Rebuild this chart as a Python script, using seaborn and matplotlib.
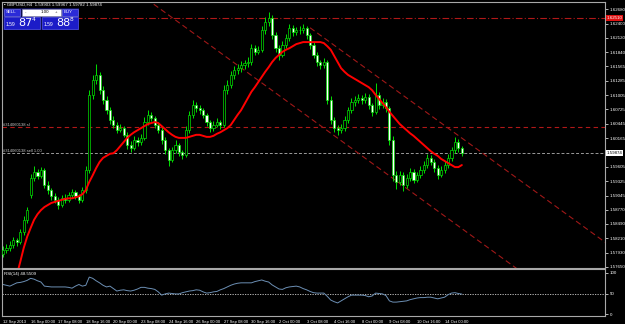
import numpy as np
import pandas as pd
import matplotlib
matplotlib.use("Agg")
import matplotlib.pyplot as plt
from matplotlib import font_manager
import seaborn as sns
from matplotlib.patches import Rectangle

# ---------------- data ----------------
opens = [1.5790,1.5798,1.5802,1.5808,1.5818,1.5814,1.5833,1.5857,
         1.5905,1.5939,1.5950,1.5942,1.5954,1.5925,1.5915,1.5903,
         1.5896,1.5886,1.5899,1.5896,1.5905,1.5911,1.5903,1.5896,
         1.5915,1.5954,1.6101,1.6130,1.6140,1.6110,1.6091,1.6071,
         1.6052,1.6042,1.6032,1.6036,1.6023,1.6003,1.5997,1.6013,
         1.6009,1.6017,1.6048,1.6062,1.6056,1.6042,1.6032,1.6013,
         1.5993,1.5974,1.5993,1.6003,1.5989,1.5984,1.6032,1.6062,
         1.6081,1.6075,1.6071,1.6062,1.6048,1.6036,1.6042,1.6048,
         1.6042,1.6110,1.6120,1.6140,1.6150,1.6153,1.6159,1.6163,
         1.6165,1.6192,1.6185,1.6189,1.6228,1.6243,1.6251,1.6218,
         1.6192,1.6179,1.6198,1.6212,1.6231,1.6224,1.6228,1.6228,
         1.6231,1.6218,1.6198,1.6179,1.6165,1.6159,1.6165,1.6091,
         1.6052,1.6036,1.6032,1.6036,1.6052,1.6071,1.6087,1.6091,
         1.6095,1.6091,1.6097,1.6081,1.6068,1.6101,1.6081,1.6087,
         1.6075,1.6013,1.5944,1.5931,1.5944,1.5925,1.5939,1.5950,
         1.5935,1.5944,1.5954,1.5964,1.5978,1.5970,1.5958,1.5944,
         1.5954,1.5964,1.5978,1.5993,1.6009,1.5997]
highs = [1.5806,1.5810,1.5815,1.5824,1.5822,1.5840,1.5864,1.5882,
         1.5946,1.5962,1.5956,1.5960,1.5958,1.5932,1.5920,1.5910,
         1.5902,1.5906,1.5908,1.5912,1.5918,1.5915,1.5908,1.5922,
         1.5962,1.6110,1.6140,1.6162,1.6146,1.6118,1.6098,1.6078,
         1.6060,1.6048,1.6044,1.6040,1.6028,1.6010,1.6020,1.6018,
         1.6024,1.6058,1.6072,1.6068,1.6060,1.6048,1.6038,1.6018,
         1.5998,1.6000,1.6012,1.6008,1.5994,1.6040,1.6070,1.6090,
         1.6088,1.6082,1.6076,1.6066,1.6052,1.6050,1.6056,1.6052,
         1.6120,1.6130,1.6148,1.6158,1.6162,1.6168,1.6170,1.6174,
         1.6200,1.6198,1.6196,1.6236,1.6252,1.6262,1.6256,1.6224,
         1.6198,1.6206,1.6220,1.6240,1.6238,1.6234,1.6236,1.6240,
         1.6236,1.6222,1.6204,1.6184,1.6170,1.6172,1.6170,1.6098,
         1.6058,1.6042,1.6044,1.6060,1.6078,1.6094,1.6098,1.6102,
         1.6100,1.6104,1.6102,1.6086,1.6124,1.6106,1.6094,1.6092,
         1.6080,1.6020,1.5952,1.5952,1.5950,1.5946,1.5958,1.5956,
         1.5950,1.5962,1.5972,1.5986,1.5984,1.5976,1.5964,1.5962,
         1.5972,1.5986,1.6000,1.6018,1.6014,1.6002]
lows = [1.5784,1.5792,1.5796,1.5803,1.5806,1.5810,1.5828,1.5850,
        1.5900,1.5932,1.5936,1.5938,1.5920,1.5908,1.5896,1.5890,
        1.5878,1.5882,1.5890,1.5891,1.5900,1.5898,1.5890,1.5892,
        1.5910,1.5948,1.6092,1.6122,1.6102,1.6084,1.6064,1.6045,
        1.6036,1.6026,1.6028,1.6018,1.5996,1.5990,1.5993,1.6002,
        1.6004,1.6012,1.6042,1.6050,1.6036,1.6026,1.6006,1.5986,
        1.5962,1.5970,1.5988,1.5982,1.5976,1.5980,1.6026,1.6056,
        1.6068,1.6064,1.6056,1.6040,1.6028,1.6030,1.6038,1.6034,
        1.6038,1.6102,1.6114,1.6132,1.6142,1.6146,1.6152,1.6156,
        1.6160,1.6178,1.6180,1.6184,1.6220,1.6236,1.6210,1.6184,
        1.6170,1.6174,1.6192,1.6206,1.6216,1.6218,1.6220,1.6222,
        1.6210,1.6190,1.6172,1.6158,1.6152,1.6154,1.6084,1.6044,
        1.6028,1.6022,1.6026,1.6030,1.6046,1.6066,1.6080,1.6085,
        1.6084,1.6086,1.6074,1.6060,1.6064,1.6074,1.6076,1.6068,
        1.6004,1.5932,1.5918,1.5926,1.5914,1.5920,1.5932,1.5928,
        1.5930,1.5938,1.5948,1.5958,1.5964,1.5950,1.5936,1.5940,
        1.5948,1.5958,1.5972,1.5988,1.5990,1.5982]
closes = [1.5798,1.5802,1.5808,1.5818,1.5814,1.5833,1.5857,1.5876,
          1.5939,1.5950,1.5942,1.5954,1.5925,1.5915,1.5903,1.5896,
          1.5886,1.5899,1.5896,1.5905,1.5911,1.5903,1.5896,1.5915,
          1.5954,1.6101,1.6130,1.6140,1.6110,1.6091,1.6071,1.6052,
          1.6042,1.6032,1.6036,1.6023,1.6003,1.5997,1.6013,1.6009,
          1.6017,1.6048,1.6062,1.6056,1.6042,1.6032,1.6013,1.5993,
          1.5974,1.5993,1.6003,1.5989,1.5984,1.6032,1.6062,1.6081,
          1.6075,1.6071,1.6062,1.6048,1.6036,1.6042,1.6048,1.6042,
          1.6110,1.6120,1.6140,1.6150,1.6153,1.6159,1.6163,1.6165,
          1.6192,1.6185,1.6189,1.6228,1.6243,1.6251,1.6218,1.6192,
          1.6179,1.6198,1.6212,1.6231,1.6224,1.6228,1.6228,1.6231,
          1.6218,1.6198,1.6179,1.6165,1.6159,1.6165,1.6091,1.6052,
          1.6036,1.6032,1.6036,1.6052,1.6071,1.6087,1.6091,1.6095,
          1.6091,1.6097,1.6081,1.6068,1.6101,1.6081,1.6087,1.6075,
          1.6013,1.5944,1.5931,1.5944,1.5925,1.5939,1.5950,1.5935,
          1.5944,1.5954,1.5964,1.5978,1.5970,1.5958,1.5944,1.5954,
          1.5964,1.5978,1.5993,1.6009,1.5997,1.59874]
ma_values = [np.nan, np.nan, np.nan, np.nan,
             1.5749,1.5775,1.5802,1.5824,1.5841,1.5857,1.5868,1.5876,
             1.5882,1.5886,1.5890,1.5892,1.5894,1.5896,1.5898,1.5899,
             1.5899,1.5901,1.5903,1.5907,1.5915,1.5931,1.5944,1.5958,
             1.5970,1.5978,1.5982,1.5986,1.5987,1.5993,1.6001,1.6009,
             1.6017,1.6023,1.6028,1.6032,1.6036,1.6040,1.6044,1.6046,
             1.6048,1.6046,1.6040,1.6034,1.6028,1.6023,1.6019,1.6017,
             1.6017,1.6017,1.6019,1.6021,1.6023,1.6023,1.6021,1.6019,
             1.6019,1.6021,1.6025,1.6028,1.6032,1.6036,1.6042,1.6052,
             1.6062,1.6071,1.6083,1.6095,1.6107,1.6116,1.6126,1.6136,
             1.6146,1.6155,1.6165,1.6173,1.6179,1.6185,1.6189,1.6192,
             1.6196,1.6200,1.6202,1.6204,1.6204,1.6204,1.6204,1.6204,
             1.6204,1.6202,1.6196,1.6189,1.6177,1.6165,1.6153,1.6146,
             1.6140,1.6136,1.6132,1.6128,1.6124,1.6120,1.6116,1.6110,
             1.6101,1.6093,1.6085,1.6077,1.6068,1.6060,1.6052,1.6044,
             1.6038,1.6032,1.6026,1.6021,1.6015,1.6009,1.6003,1.5997,
             1.5991,1.5986,1.5982,1.5976,1.5972,1.5968,1.5964,1.5960,
             1.5960,1.5964]
rsi_values = [72,70,68,72,76,77,79,82,
              87,85,81,78,68,67,66,66,
              66,66,66,65,63,68,72,68,
              70,90,87,81,76,70,66,68,
              62,56,58,59,57,56,58,61,
              65,65,63,62,60,54,46,49,
              51,50,49,49,52,54,56,57,
              59,58,54,51,52,54,55,59,
              62,66,70,73,75,76,76,76,
              76,79,81,83,80,78,71,66,
              61,60,64,66,67,68,66,62,
              59,55,52,51,51,51,43,34,
              30,27,32,37,42,46,46,46,
              46,45,42,44,51,50,49,45,
              32,29,29,30,31,32,35,37,
              39,40,40,41,41,39,37,39,
              41,47,51,52,50,48.5509]

price_ticks = [1.62680,1.62400,1.62120,1.61840,1.61565,1.61285,1.61005,1.60725,
               1.60445,1.60165,1.59605,1.59325,1.59045,1.58770,1.58490,
               1.58210,1.57930,1.57650]
price_tick_labels = ["%.5f" % v for v in price_ticks]
time_tick_bars = [0,8,16,24,32,40,48,56,64,72,80,88,96,104,112,120,128]
time_tick_labels = ["12 Sep 2013","16 Sep 00:00","17 Sep 08:00","18 Sep 16:00",
                    "20 Sep 00:00","23 Sep 08:00","24 Sep 16:00","26 Sep 00:00",
                    "27 Sep 08:00","30 Sep 16:00","2 Oct 00:00","3 Oct 08:00",
                    "4 Oct 16:00","8 Oct 00:00","9 Oct 08:00","10 Oct 16:00",
                    "14 Oct 00:00"]
rsi_ticks = [0, 50, 100]

level_top = 1.62510          # red dash-dot line
level_sl = 1.60380           # red dashed order line
order_price = 1.59874        # sell order / bid
channel_upper_bars = [89, 175]          # ray starts at first point
channel_upper_prices = [1.6232, 1.5811]
channel_lower_bars = [40, 175]
channel_lower_prices = [1.6296, 1.5634]
title_text = "GBPUSD,H4  1.59903 1.59967 1.59782 1.59874"
order_id = "#314060138"
sell_price = ("1.59", "87", "4")
buy_price = ("1.59", "88", "8")

# ---------------- figure ----------------
sns.set_theme(style="dark")
names = {f.name for f in font_manager.fontManager.ttflist}
small_font = "Liberation Sans Narrow" if "Liberation Sans Narrow" in names else "Liberation Sans"
plt.rcParams['font.family'] = [small_font, 'DejaVu Sans']
narrow = small_font == "Liberation Sans Narrow"
fs = 3.9 if narrow else 3.2      # price axis labels
fsx = 3.5 if narrow else 3.0     # time axis labels

W, H = 625, 324
fig = plt.figure(figsize=(W / 100, H / 100), dpi=100, facecolor="black")

def fx(px):
    return px / W

def fy(py):
    return 1 - py / H

ax = fig.add_axes([fx(2), fy(268), fx(603), 266 / H])
axr = fig.add_axes([fx(2), fy(316), fx(603), 47 / H])

n = len(closes)
df = pd.DataFrame({"bar": np.arange(n), "open": opens, "high": highs,
                   "low": lows, "close": closes, "ma": ma_values, "rsi": rsi_values})

frame_col = "#a8a8a8"
for a in (ax, axr):
    a.set_facecolor("black")
    for s in a.spines.values():
        s.set_color(frame_col)
        s.set_linewidth(0.8)
    a.grid(False)

px_per_bar = 3.45
x0 = -1 / px_per_bar
x1 = x0 + 603 / px_per_bar
ax.set_xlim(x0, x1)
axr.set_xlim(x0, x1)

p_per_px = 0.0503 / 257.7
ax.set_ylim(1.57650 - 1.0 * p_per_px, 1.62680 + 7.3 * p_per_px)
axr.set_ylim(-2 / 0.41, 100 + 4 / 0.41)

# horizontal levels
ax.axhline(level_top, color="#b01818", lw=0.8, ls=(0, (6, 2, 1, 2)), zorder=1)
ax.axhline(level_sl, color="#b01818", lw=0.8, ls=(0, (4, 3)), zorder=1)
ax.axhline(order_price, color="#9a9a9a", lw=0.7, ls=(0, (3, 2)), zorder=1)

# channel lines (rays)
ax.plot(channel_upper_bars, channel_upper_prices, color="#a01818", lw=0.8,
        ls=(0, (5, 3)), zorder=1)
ax.plot(channel_lower_bars, channel_lower_prices, color="#a01818", lw=0.8,
        ls=(0, (5, 3)), zorder=1)

# candles
green = "#00e000"
ax.vlines(df["bar"], df["low"], df["high"], color=green, lw=0.7, zorder=2)
bull = df["close"] >= df["open"]
body_lo = np.minimum(df["open"], df["close"])
body_h = np.maximum(np.abs(df["close"] - df["open"]), 0.00005)
ax.bar(df["bar"][bull], body_h[bull], bottom=body_lo[bull], width=0.62,
       color="black", edgecolor=green, linewidth=0.5, zorder=3)
ax.bar(df["bar"][~bull], body_h[~bull], bottom=body_lo[~bull], width=0.62,
       color="white", edgecolor=green, linewidth=0.5, zorder=3)

# moving average
sns.lineplot(data=df, x="bar", y="ma", ax=ax, color="red", lw=1.4, zorder=4)

# RSI
axr.axhline(50, color="#d0d0d0", lw=0.6, ls=(0, (1.5, 1.5)))
sns.lineplot(data=df, x="bar", y="rsi", ax=axr, color="#6c8fb4", lw=0.7)

# axes ticks
ax.yaxis.tick_right()
ax.set_yticks(price_ticks)
ax.set_yticklabels(price_tick_labels)
ax.tick_params(axis="y", colors="white", labelsize=fs, length=2, width=0.5, pad=1.2,
               direction="out", labelcolor="white")
ax.set_xticks([])
ax.set_xlabel("")
ax.set_ylabel("")

axr.yaxis.tick_right()
axr.set_yticks(rsi_ticks)
axr.set_yticklabels([str(v) for v in rsi_ticks])
axr.tick_params(axis="y", colors="white", labelsize=fs, length=2, width=0.5, pad=1.2)
axr.set_xticks(time_tick_bars)
axr.set_xticklabels(time_tick_labels, ha="left")
axr.tick_params(axis="x", colors="white", labelsize=fsx, length=2, width=0.5, pad=0.6)
axr.set_xlabel("")
axr.set_ylabel("")

# price boxes on the axis
ytr = ax.get_yaxis_transform()
ax.text(1.0025, level_top, "%.5f" % level_top, transform=ytr, color="white", fontsize=fs,
        va="center", ha="left", clip_on=False, zorder=10,
        bbox=dict(facecolor="#e01010", edgecolor="none", pad=0.7))
ax.text(1.0025, order_price, "%.5f" % order_price, transform=ytr, color="black", fontsize=fs,
        va="center", ha="left", clip_on=False, zorder=10,
        bbox=dict(facecolor="white", edgecolor="none", pad=0.7))

# order labels
ax.text(0.002, level_sl, order_id + " sl", transform=ytr,
        color="#c8c8c8", fontsize=fsx, va="bottom", ha="left")
ax.text(0.002, order_price, order_id + " sell 1.00", transform=ytr,
        color="#c8c8c8", fontsize=fsx, va="bottom", ha="left")

# RSI label
axr.text(0.003, 0.93, "RSI(14) 48.5509", transform=axr.transAxes, color="white",
         fontsize=fs, va="top", ha="left")

# chart title
fig.text(fx(4), fy(4.5), "\u25aa " + title_text, color="white", fontsize=fs,
         va="center", ha="left")

# one-click trading panel
def rect(x, y, w, h, fc, ec="none", lw=0.5):
    fig.patches.append(Rectangle((fx(x), fy(y + h)), w / W, h / H, transform=fig.transFigure,
                                 facecolor=fc, edgecolor=ec, lw=lw, zorder=20))

rect(3, 7.5, 76, 22, "#101050")
rect(4, 8.5, 16, 7.5, "#2b2bd8", "#8080ff", 0.4)
rect(21.5, 8.5, 39, 7.5, "white", "#9090c0", 0.4)
rect(62, 8.5, 16, 7.5, "#2b2bd8", "#8080ff", 0.4)
rect(4, 17, 36, 12, "#1c1cc8", "#6060ff", 0.4)
rect(42, 17, 36, 12, "#1c1cc8", "#6060ff", 0.4)
fig.text(fx(6), fy(12.3), "SELL", color="white", fontsize=fs, va="center", ha="left", zorder=21)
fig.text(fx(64), fy(12.3), "BUY", color="white", fontsize=fs, va="center", ha="left", zorder=21)
fig.text(fx(25), fy(12.3), "-", color="#404040", fontsize=fs, va="center", ha="left", zorder=21)
fig.text(fx(57), fy(12.3), "+", color="#404040", fontsize=fs, va="center", ha="right", zorder=21)
fig.text(fx(49), fy(12.3), "1.00", color="black", fontsize=fs, va="center", ha="right", zorder=21)
for bx, (a, b, c) in ((6, sell_price), (44, buy_price)):
    fig.text(fx(bx), fy(26), a, color="white", fontsize=fs + 0.4, va="baseline", ha="left",
             zorder=21)
    fig.text(fx(bx + 12), fy(26.5), b, color="white", fontsize=8, va="baseline", ha="left",
             zorder=21, family=["DejaVu Sans"])
    fig.text(fx(bx + 26), fy(21), c, color="white", fontsize=4.2, va="baseline", ha="left",
             zorder=21, family=["DejaVu Sans"])

fig.savefig("out.png", dpi=100, facecolor="black")
